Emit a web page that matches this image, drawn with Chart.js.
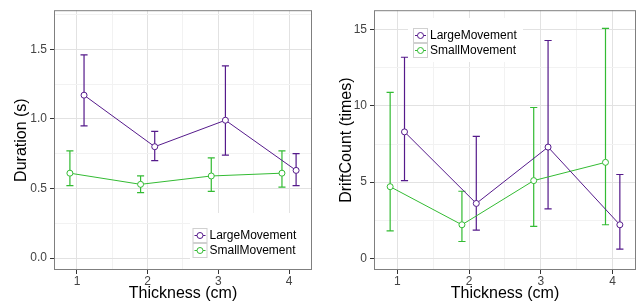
<!DOCTYPE html>
<html>
<head>
<meta charset="utf-8">
<script src="https://cdn.jsdelivr.net/npm/chart.js@4.4.0/dist/chart.umd.min.js"></script>
<style>
  body { margin: 0; background: #fff; }
  #wrap { position: relative; width: 641px; height: 307px; }
  #chartDuration { position: absolute; left: 0; top: 0; }
  #chartDrift { position: absolute; left: 320px; top: 0; }
</style>
</head>
<body>
<div id="wrap">
  <canvas id="chartDuration" width="320" height="307"></canvas>
  <canvas id="chartDrift" width="321" height="307"></canvas>
</div>
<script>
// data
const thickness = [1, 2, 3, 4];
const seriesNames = ["LargeMovement", "SmallMovement"];

const durationLarge = [1.17, 0.80, 0.99, 0.63];
const durationLargeLow = [0.95, 0.70, 0.74, 0.52];
const durationLargeHigh = [1.46, 0.91, 1.38, 0.75];
const durationSmall = [0.61, 0.53, 0.59, 0.61];
const durationSmallLow = [0.52, 0.47, 0.48, 0.51];
const durationSmallHigh = [0.77, 0.59, 0.72, 0.77];

const driftLarge = [8.3, 3.6, 7.3, 2.2];
const driftLargeLow = [5.1, 1.85, 3.25, 0.6];
const driftLargeHigh = [13.2, 8.0, 14.3, 5.5];
const driftSmall = [4.7, 2.2, 5.1, 6.3];
const driftSmallLow = [1.8, 1.1, 2.1, 2.2];
const driftSmallHigh = [10.9, 4.4, 9.9, 15.1];

// tick labels (major) and minor grid positions
const xTicksMajor = [1, 2, 3, 4];
const xTicksMinor = [1.5, 2.5, 3.5];
const durationTicksMajor = [0, 0.5, 1, 1.5];
const durationTicksMinor = [0.25, 0.75, 1.25, 1.75];
const driftTicksMajor = [0, 5, 10, 15];
const driftTicksMinor = [2.5, 7.5, 12.5];

const colorLarge = "#551A8B";
const colorSmall = "#33BB33";
const fontFamily = "'Liberation Sans', Arial, Helvetica, sans-serif";
const dodge = 0.1;
const capHalf = 0.05;

function points(values, shift) {
  return thickness.map((t, i) => ({ x: t + shift, y: values[i] }));
}

function serie(label, color, values, low, high, shift) {
  return {
    label: label,
    data: points(values, shift),
    errLow: low,
    errHigh: high,
    borderColor: color,
    borderWidth: 1,
    pointRadius: 3,
    pointBorderWidth: 1,
    pointBorderColor: color,
    pointBackgroundColor: "#fff",
    tension: 0,
    fill: false,
  };
}

const errorBars = {
  id: "errorBars",
  beforeDatasetsDraw(chart) {
    const ctx = chart.ctx;
    const xs = chart.scales.x;
    const ys = chart.scales.y;
    ctx.save();
    chart.data.datasets.forEach((ds) => {
      ctx.strokeStyle = ds.borderColor;
      ctx.lineWidth = 1.2;
      ds.data.forEach((p, i) => {
        const x = xs.getPixelForValue(p.x);
        const x0 = xs.getPixelForValue(p.x - capHalf);
        const x1 = xs.getPixelForValue(p.x + capHalf);
        const yLo = ys.getPixelForValue(ds.errLow[i]);
        const yHi = ys.getPixelForValue(ds.errHigh[i]);
        ctx.beginPath();
        ctx.moveTo(x, yLo); ctx.lineTo(x, yHi);
        ctx.moveTo(x0, yLo); ctx.lineTo(x1, yLo);
        ctx.moveTo(x0, yHi); ctx.lineTo(x1, yHi);
        ctx.stroke();
      });
    });
    ctx.restore();
  },
};

// legend inside the panel + panel border, ggplot style
const ggLegend = {
  id: "ggLegend",
  afterDraw(chart, args, opts) {
    const ctx = chart.ctx;
    const area = chart.chartArea;
    ctx.save();
    ctx.fillStyle = "#fff";
    ctx.fillRect(opts.bg[0], opts.bg[1], opts.bg[2], opts.bg[3]);
    chart.data.datasets.forEach((ds, i) => {
      const kx = opts.keyX;
      const ky = opts.keyY + i * 15;
      const cy = ky + 7.5;
      ctx.strokeStyle = "#d0d0d0";
      ctx.lineWidth = 1;
      ctx.strokeRect(kx + 0.5, ky + 0.5, 14, 14);
      ctx.strokeStyle = ds.borderColor;
      ctx.beginPath();
      ctx.moveTo(kx + 2, cy); ctx.lineTo(kx + 13, cy);
      ctx.stroke();
      ctx.beginPath();
      ctx.arc(kx + 7.5, cy, 3, 0, Math.PI * 2);
      ctx.fillStyle = "#fff";
      ctx.fill();
      ctx.stroke();
      ctx.fillStyle = "#000";
      ctx.font = "12px " + fontFamily;
      ctx.textBaseline = "middle";
      ctx.textAlign = "left";
      ctx.fillText(ds.label, kx + 17, cy);
    });
    ctx.strokeStyle = "#7f7f7f";
    ctx.lineWidth = 1;
    ctx.strokeRect(area.left + 0.5, area.top + 0.5, area.right - area.left - 1, area.bottom - area.top - 1);
    ctx.restore();
  },
};

function makeOptions(cfg) {
  const yAll = cfg.yMajor.concat(cfg.yMinor).sort((a, b) => a - b);
  const xAll = xTicksMajor.concat(xTicksMinor).sort((a, b) => a - b);
  return {
    responsive: false,
    animation: false,
    layout: { padding: { top: 5, right: cfg.rightPad, bottom: 0, left: 0 } },
    plugins: {
      legend: { display: false },
      tooltip: { enabled: false },
      ggLegend: cfg.legend,
    },
    scales: {
      x: {
        type: "linear",
        min: 0.675,
        max: 4.325,
        afterBuildTicks: (s) => { s.ticks = xAll.map((v) => ({ value: v })); },
        afterFit: (s) => { s.height = 37; },
        ticks: {
          autoSkip: false,
          maxRotation: 0,
          padding: 0,
          color: "#444",
          font: { family: fontFamily, size: 12 },
          callback: (v) => (xTicksMajor.includes(v) ? String(v) : ""),
        },
        grid: {
          color: (c) => (c.tick && xTicksMajor.includes(c.tick.value) ? "#e2e2e2" : "#f2f2f2"),
          tickColor: (c) => (c.tick && xTicksMajor.includes(c.tick.value) ? "#333" : "rgba(0,0,0,0)"),
          tickLength: 4,
        },
        border: { display: false },
        title: {
          display: true,
          text: "Thickness (cm)",
          color: "#000",
          font: { family: fontFamily, size: 16 },
          padding: { top: 0, bottom: 3.4 },
        },
      },
      y: {
        min: cfg.yMin,
        max: cfg.yMax,
        afterBuildTicks: (s) => { s.ticks = yAll.map((v) => ({ value: v })); },
        afterFit: (s) => { s.width = 54; },
        ticks: {
          autoSkip: false,
          padding: 3,
          color: "#444",
          font: { family: fontFamily, size: 12 },
          callback: (v) => (cfg.yMajor.includes(v) ? cfg.fmt(v) : ""),
        },
        grid: {
          color: (c) => (c.tick && cfg.yMajor.includes(c.tick.value) ? "#e2e2e2" : "#f2f2f2"),
          tickColor: (c) => (c.tick && cfg.yMajor.includes(c.tick.value) ? "#333" : "rgba(0,0,0,0)"),
          tickLength: 4,
        },
        border: { display: false },
        title: {
          display: true,
          text: cfg.yTitle,
          color: "#000",
          font: { family: fontFamily, size: 16 },
          padding: { top: cfg.titlePad, bottom: 0 },
        },
      },
    },
  };
}

const chartDuration = new Chart(document.getElementById("chartDuration"), {
  type: "line",
  data: {
    datasets: [
      serie(seriesNames[0], colorLarge, durationLarge, durationLargeLow, durationLargeHigh, dodge),
      serie(seriesNames[1], colorSmall, durationSmall, durationSmallLow, durationSmallHigh, -dodge),
    ],
  },
  options: makeOptions({
    yMin: -0.085,
    yMax: 1.78,
    yMajor: durationTicksMajor,
    yMinor: durationTicksMinor,
    fmt: (v) => v.toFixed(1),
    yTitle: "Duration (s)",
    titlePad: 12.4,
    rightPad: 8,
    legend: { bg: [190, 213, 122, 57], keyX: 192.5, keyY: 228 },
  }),
  plugins: [errorBars, ggLegend],
});

const chartDrift = new Chart(document.getElementById("chartDrift"), {
  type: "line",
  data: {
    datasets: [
      serie(seriesNames[0], colorLarge, driftLarge, driftLargeLow, driftLargeHigh, dodge),
      serie(seriesNames[1], colorSmall, driftSmall, driftSmallLow, driftSmallHigh, -dodge),
    ],
  },
  options: makeOptions({
    yMin: -0.77,
    yMax: 16.29,
    yMajor: driftTicksMajor,
    yMinor: driftTicksMinor,
    fmt: (v) => String(v),
    yTitle: "DriftCount (times)",
    titlePad: 17,
    rightPad: 5,
    legend: { bg: [88, 18, 115, 44], keyX: 93, keyY: 28 },
  }),
  plugins: [errorBars, ggLegend],
});
</script>
</body>
</html>
